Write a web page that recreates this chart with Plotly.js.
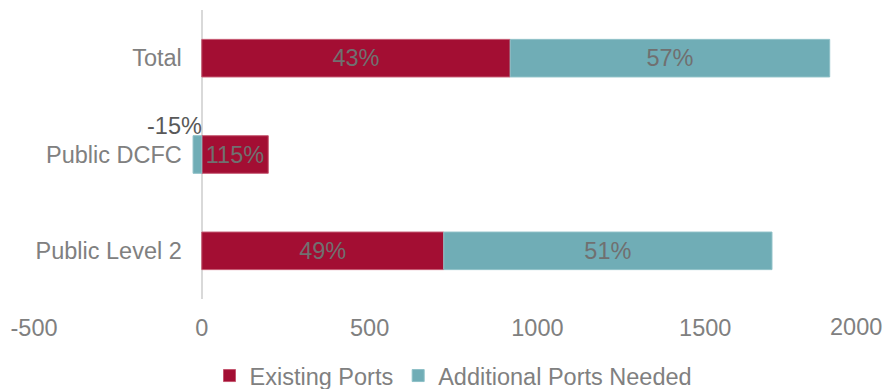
<!DOCTYPE html>
<html>
<head>
<meta charset="utf-8">
<script src="https://cdn.plot.ly/plotly-3.0.1.min.js"></script>
<style>
  html, body { margin: 0; padding: 0; background: #fff; }
  #chart { width: 896px; height: 389px; }
</style>
</head>
<body>
<div id="chart"></div>
<script>
const categories = ['Public Level 2', 'Public DCFC', 'Total'];
const existingPorts = [721, 198, 919];
const additionalPorts = [978, -26, 952];
const existingLabels = ['49%', '115%', '43%'];
const additionalLabels = ['51%', '-15%', '57%'];
const xTicks = [-500, 0, 500, 1000, 1500, 2000];
const xTickText = ['-500', '0', '500', '1000', '1500', '2000'];

const FONT = 'Liberation Sans, Arial, sans-serif';
const FS = 23.5;
const RED = '#A30E33';
const TEAL = '#70ADB6';
const lastTick = xTicks.length - 1;

const traces = [
  {
    type: 'bar', orientation: 'h', name: 'Existing Ports',
    y: categories, x: existingPorts,
    text: existingLabels, textposition: 'inside', insidetextanchor: 'middle',
    constraintext: 'none',
    textfont: {family: FONT, size: FS, color: '#707070'},
    marker: {color: RED, line: {color: '#C4566F', width: 1}},
    width: 0.39, hoverinfo: 'x+y'
  },
  {
    type: 'bar', orientation: 'h', name: 'Additional Ports Needed',
    y: categories, x: additionalPorts,
    text: additionalLabels,
    textposition: additionalPorts.map(v => v < 0 ? 'none' : 'inside'),
    insidetextanchor: 'middle', constraintext: 'none',
    textfont: {family: FONT, size: FS, color: '#707070'},
    marker: {color: TEAL, line: {color: '#8EC0C7', width: 1}},
    width: 0.39, hoverinfo: 'x+y'
  }
];

const annotations = additionalPorts.map((v, i) => v < 0 ? {
  x: 0, y: categories[i], xref: 'x', yref: 'y',
  text: additionalLabels[i], showarrow: false,
  xanchor: 'right', yanchor: 'middle', xshift: 2, yshift: 29,
  font: {family: FONT, size: FS, color: '#595959'}
} : null).filter(a => a);

// last tick label nudged inward so it stays inside the picture
annotations.push({
  x: xTicks[lastTick], y: 0, xref: 'x', yref: 'paper',
  text: xTickText[lastTick], showarrow: false,
  xanchor: 'right', yanchor: 'middle', xshift: 11, yshift: -28,
  font: {family: FONT, size: FS, color: '#808080'}
});

const layout = {
  width: 896, height: 389,
  margin: {l: 34, r: 23, t: 10, b: 90},
  paper_bgcolor: '#ffffff', plot_bgcolor: '#ffffff',
  barmode: 'relative',
  font: {family: FONT, size: FS, color: '#808080'},
  xaxis: {
    range: [-500, 2000], tickvals: xTicks,
    ticktext: xTickText.map((t, i) => i === lastTick ? '' : t),
    showgrid: false, zeroline: true, zerolinecolor: '#D9D9D9', zerolinewidth: 2,
    showline: false, ticks: '', ticklabelstandoff: 12,
    tickfont: {family: FONT, size: FS, color: '#808080'},
    automargin: false, fixedrange: true
  },
  yaxis: {
    type: 'category', anchor: 'free', position: 0.2,
    showgrid: false, zeroline: false, showline: false, ticks: '',
    ticklabelstandoff: 20, automargin: false,
    tickfont: {family: FONT, size: FS, color: '#808080'},
    range: [-0.5, 2.5], fixedrange: true
  },
  showlegend: true,
  legend: {
    orientation: 'h', x: 0.5, xanchor: 'center',
    yref: 'container', y: 0.034, yanchor: 'middle',
    font: {family: FONT, size: FS, color: '#808080'},
    traceorder: 'normal'
  },
  annotations: annotations
};

Plotly.newPlot('chart', traces, layout, {displayModeBar: false, staticPlot: true});
</script>
</body>
</html>
